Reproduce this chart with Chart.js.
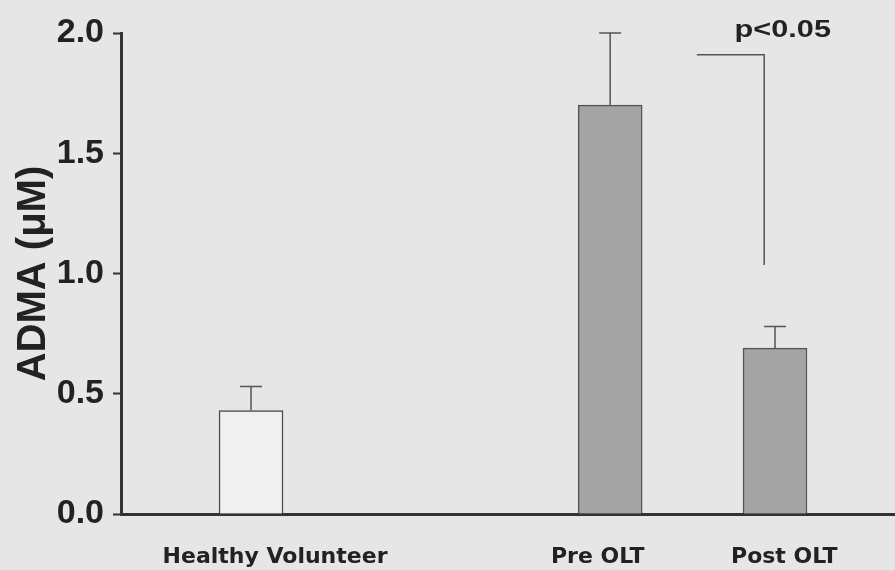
<!DOCTYPE html>
<html>
<head>
<meta charset="utf-8">
<script src="https://cdn.jsdelivr.net/npm/chart.js@4/dist/chart.umd.min.js"></script>
<style>
  html, body { margin: 0; padding: 0; background: #e6e6e6; }
  #wrap { width: 895px; height: 570px; }
</style>
</head>
<body>
<div id="wrap"><canvas id="chartAdma"></canvas></div>
<script>
// data
const groups = ['Healthy Volunteer', 'Pre OLT', 'Post OLT'];
const groupX = [1.68, 6.32, 8.45];          // bar centres on a 0-10 axis
const labelX = [1.99, 6.16, 8.57];          // where the group names sit on that axis
const admaMean = [0.43, 1.70, 0.69];        // µM
const admaErr = [0.10, 0.30, 0.09];         // upper error bar
const yTicks = [0.0, 0.5, 1.0, 1.5, 2.0];

// significance bracket Pre OLT vs Post OLT
const sigLabel = 'p<0.05';
const sigX = [7.44, 8.31];
const sigY = [1.91, 1.035];
const sigTextPos = [8.55, 1.985];

const AXIS_LEFT = 121;
const AXIS_BOTTOM_H = 56;

// error bars and bracket
const extrasPlugin = {
    id: 'extras',
    afterDatasetsDraw(chart) {
        const ctx = chart.ctx;
        const x = chart.scales.x;
        const y = chart.scales.y;
        ctx.save();
        ctx.strokeStyle = '#555555';
        ctx.lineWidth = 1.5;
        admaMean.forEach((v, i) => {
            const px = x.getPixelForValue(groupX[i]);
            const top = y.getPixelForValue(v + admaErr[i]);
            ctx.beginPath();
            ctx.moveTo(px, y.getPixelForValue(v));
            ctx.lineTo(px, top);
            ctx.moveTo(px - 11, top);
            ctx.lineTo(px + 11, top);
            ctx.stroke();
        });
        // bracket
        ctx.beginPath();
        ctx.moveTo(x.getPixelForValue(sigX[0]), y.getPixelForValue(sigY[0]));
        ctx.lineTo(x.getPixelForValue(sigX[1]), y.getPixelForValue(sigY[0]));
        ctx.lineTo(x.getPixelForValue(sigX[1]), y.getPixelForValue(sigY[1]));
        ctx.stroke();
        ctx.fillStyle = '#222222';
        ctx.font = 'bold 26px "Liberation Sans", Arial';
        ctx.textAlign = 'center';
        ctx.textBaseline = 'alphabetic';
        const tx = x.getPixelForValue(sigTextPos[0]);
        const ty = y.getPixelForValue(sigTextPos[1]);
        // the original lettering is a little wider than Arial
        ctx.translate(tx, ty);
        ctx.scale(1.18, 0.95);
        ctx.fillText(sigLabel, 0, 0);
        ctx.restore();
    }
};

const ctxAdma = document.getElementById('chartAdma').getContext('2d');
new Chart(ctxAdma, {
    type: 'bar',
    data: {
        datasets: [{
            data: groupX.map((gx, i) => ({ x: gx, y: admaMean[i] })),
            backgroundColor: ['#f0f0f0', '#a4a4a4', '#a4a4a4'],
            borderColor: ['#4a4a4a', '#555555', '#555555'],
            borderWidth: 1.5,
            borderSkipped: 'bottom',
            barThickness: 64
        }]
    },
    options: {
        responsive: true,
        maintainAspectRatio: false,
        animation: false,
        layout: { padding: { top: 33, right: 0, left: 0, bottom: 0 } },
        plugins: {
            legend: { display: false },
            tooltip: { enabled: false }
        },
        scales: {
            x: {
                type: 'linear',
                min: 0,
                max: 10,
                offset: false,
                grid: { display: false },
                border: { display: true, color: '#333333', width: 3 },
                afterBuildTicks: scale => {
                    scale.ticks = labelX.map(v => ({ value: v }));
                },
                afterFit: scale => { scale.height = AXIS_BOTTOM_H; },
                ticks: {
                    autoSkip: false,
                    maxRotation: 0,
                    padding: 22,
                    color: '#222222',
                    font: { family: '"DejaVu Sans"', weight: 'bold', size: 22 },
                    callback: (value, index) => groups[index]
                }
            },
            y: {
                min: 0,
                max: 2.0,
                afterBuildTicks: scale => {
                    scale.ticks = yTicks.map(v => ({ value: v }));
                },
                afterFit: scale => { scale.width = AXIS_LEFT; },
                grid: {
                    drawOnChartArea: false,
                    drawTicks: true,
                    tickLength: 8,
                    tickWidth: 2,
                    tickColor: '#333333'
                },
                border: { display: true, color: '#333333', width: 3 },
                ticks: {
                    padding: 9,
                    color: '#222222',
                    font: { family: '"Liberation Sans", Arial', weight: 'bold', size: 34 },
                    callback: v => v.toFixed(1)
                },
                title: {
                    display: true,
                    text: 'ADMA (\u03BCM)',
                    color: '#222222',
                    padding: { top: 10, bottom: 0 },
                    font: { family: '"Liberation Sans", Arial', weight: 'bold', size: 40 }
                }
            }
        }
    },
    plugins: [extrasPlugin]
});
</script>
</body>
</html>
